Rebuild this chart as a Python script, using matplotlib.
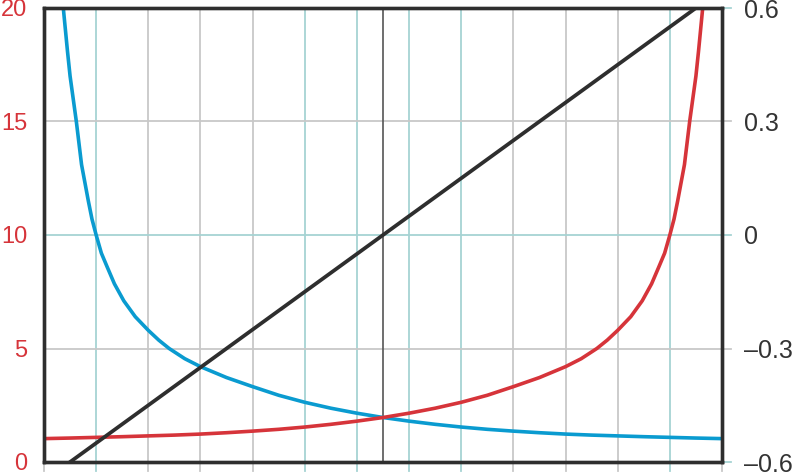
#!/usr/bin/env python3

import matplotlib.pyplot as plt
import matplotlib.transforms as mtransforms

# values
blue_x = [0.37, 0.45, 0.5, 0.56, 0.62, 0.72, 0.85, 0.92, 1.0, 1.1, 1.21, 1.35, 1.53,
          1.75, 2.0, 2.2, 2.4, 2.7, 3.0, 3.5, 4.0, 4.5, 5.0, 5.5, 6.0, 6.5, 7.0,
          7.5, 8.0, 8.5, 9.0, 9.5, 10.0, 10.5, 11.0, 11.5, 12.0, 12.5, 13.0]
blue_y = [20.0, 18.1, 17.0, 16.0, 15.0, 13.1, 11.5, 10.7, 10.0, 9.2, 8.6, 7.85, 7.1,
          6.4, 5.8, 5.37, 5.0, 4.55, 4.2, 3.72, 3.32, 2.94, 2.63, 2.37, 2.15, 1.96, 1.8,
          1.66, 1.54, 1.44, 1.36, 1.29, 1.23, 1.185, 1.15, 1.115, 1.085, 1.055, 1.03]

red_x = [0.0, 0.5, 1.0, 1.5, 2.0, 2.5, 3.0, 3.5, 4.0, 4.5, 5.0, 5.5, 6.0, 6.5, 7.0,
         7.5, 8.0, 8.5, 9.0, 9.5, 10.0, 10.3, 10.6, 10.8, 11.0, 11.25, 11.47, 11.65,
         11.79, 11.9, 12.0, 12.08, 12.15, 12.28, 12.38, 12.44, 12.5, 12.55, 12.63]
red_y = [1.03, 1.055, 1.085, 1.115, 1.15, 1.185, 1.23, 1.29, 1.36, 1.44, 1.54, 1.66, 1.8,
         1.96, 2.15, 2.37, 2.63, 2.94, 3.32, 3.72, 4.2, 4.55, 5.0, 5.37, 5.8, 6.4, 7.1,
         7.85, 8.6, 9.2, 10.0, 10.7, 11.5, 13.1, 15.0, 16.0, 17.0, 18.1, 20.0]

black_x = [0.5, 6.5, 12.5]
black_y = [-0.6, 0.0, 0.6]

left_ticks = [0, 5, 10, 15, 20]
right_ticks = [-0.6, -0.3, 0, 0.3, 0.6]
right_labels = ['\u20130.6', '\u20130.3', '0', '0.3', '0.6']
x_grid = list(range(0, 14))
teal_x = [1, 5, 6, 7, 8, 12]
teal_y = [0, 10, 20]

GRAY = '#c8c8c8'
TEAL = '#a6d3d3'
RED = '#d6343a'
BLUE = '#0a9bd0'
DARK = '#2e2e2e'

plt.rcParams['font.family'] = ['Liberation Sans', 'DejaVu Sans']

fig = plt.figure(figsize=(8, 4.75), dpi=100)
ax = fig.add_axes([44 / 800, 13 / 475, 678 / 800, 454 / 475])
ax.set_xlim(0, 13)
ax.set_ylim(0, 20)

# grid lines, with little tick stubs running outside the frame
tx = mtransforms.blended_transform_factory(ax.transData, ax.transAxes)
for x in x_grid:
    c = TEAL if x in teal_x else GRAY
    ax.plot([x, x], [-0.02, 1], color=c, lw=1.3, transform=tx,
            clip_on=False, zorder=1)
ty = mtransforms.blended_transform_factory(ax.transAxes, ax.transData)
for y in left_ticks:
    c = TEAL if y in teal_y else GRAY
    ax.plot([0, 1.013], [y, y], color=c, lw=1.3, transform=ty,
            clip_on=False, zorder=1)

ax.axvline(6.5, color='#555555', lw=1.2, zorder=2)

ax.plot(blue_x, blue_y, color=BLUE, lw=2.6, zorder=3)
ax.plot(red_x, red_y, color=RED, lw=2.6, zorder=3)

ax2 = ax.twinx()
ax2.set_ylim(-0.6, 0.6)
ax2.plot(black_x, black_y, color=DARK, lw=2.7, zorder=4)

ax.set_xticks([])
ax.set_yticks(left_ticks)
ax.set_yticklabels([str(v) for v in left_ticks])
ax.tick_params(axis='y', length=0, pad=12, labelsize=17, labelcolor=RED)

ax2.set_yticks(right_ticks)
ax2.set_yticklabels(right_labels, ha='left')
ax2.tick_params(axis='y', length=0, pad=16, labelsize=18, labelcolor='#333333')

for a in (ax, ax2):
    for s in a.spines.values():
        s.set_color(DARK)
        s.set_linewidth(2.4)
        s.set_zorder(5)

plt.savefig('out.png', dpi=100)
